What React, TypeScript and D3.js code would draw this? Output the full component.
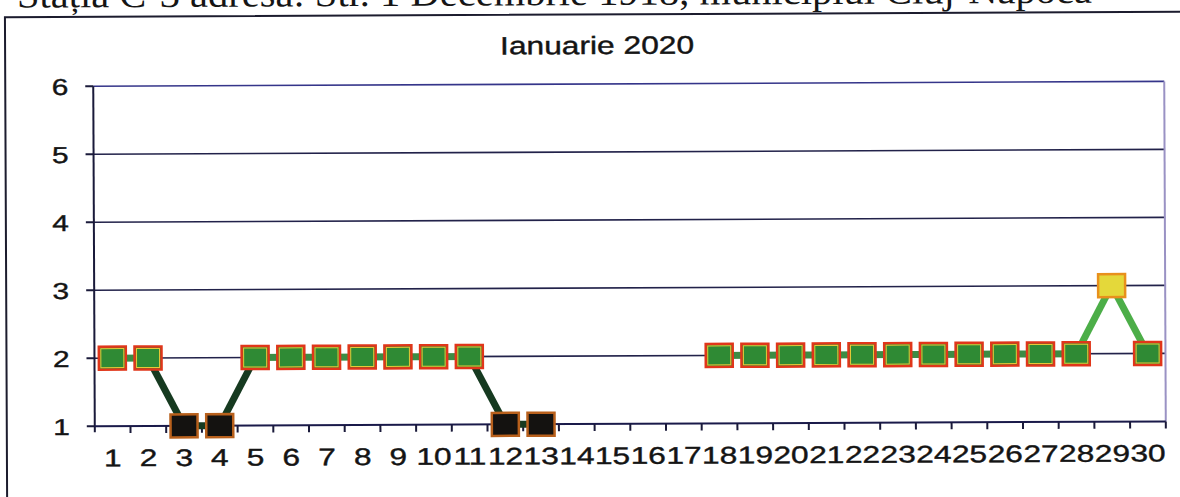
import React from 'react'
import * as d3 from 'd3'

// days of January 2020 (category axis)
const days = [
  '1', '2', '3', '4', '5', '6', '7', '8', '9', '10',
  '11', '12', '13', '14', '15', '16', '17', '18', '19', '20',
  '21', '22', '23', '24', '25', '26', '27', '28', '29', '30',
]

// daily index value, null = no measurement
const values: (number | null)[] = [
  2, 2, 1, 1, 2, 2, 2, 2, 2, 2,
  2, 1, 1, null, null, null, null, 2, 2, 2,
  2, 2, 2, 2, 2, 2, 2, 2, 3, 2,
]

const yTicks = [1, 2, 3, 4, 5, 6]

const header = 'Stația C-3 adresa: Str. 1 Decembrie 1918, municipiul Cluj-Napoca'
const title = 'Ianuarie 2020'

const W = 1180
const H = 497
const left = 94
const right = 1165
const top = 84
const bottom = 424

const sansFont = '"Liberation Sans", Arial, sans-serif'
const ink = '#141414'

const markerFill = (v: number) => (v === 1 ? '#141210' : v === 3 ? '#e4d83a' : '#2f8a34')
const markerStroke = (v: number) => (v === 1 ? '#b8601c' : v === 3 ? '#e8901c' : '#e0361a')
const segColor = (a: number, b: number) =>
  Math.min(a, b) === 1 ? '#163a20' : Math.max(a, b) === 3 ? '#4cae48' : '#3c8c44'

const App: React.FC = () => {
  const x = d3.scaleBand().domain(days).range([left, right]).padding(0)
  const y = d3.scaleLinear().domain([1, 6]).range([bottom, top])
  const cx = (d: string) => x(d)! + x.bandwidth() / 2

  const points = days.map((d, i) => ({ day: d, v: values[i] }))
  const segments = points.slice(1).map((p, i) => ({ a: points[i], b: p }))
    .filter((s) => s.a.v != null && s.b.v != null)

  const mw = 27
  const mh = 23

  return (
    <svg width={W} height={H} style={{ position: 'absolute', left: 0, top: 0, background: '#fff' }}>
      <g transform="rotate(-0.26, 590, 250)">
        {/* page header, cut at top of the scan */}
        <text x={18} y={5} fontFamily='"Liberation Serif", "Times New Roman", serif' fontSize={38}
          textLength={1075} lengthAdjust="spacingAndGlyphs" fill="#151515">{header}</text>
        {/* chart frame */}
        <rect x={6} y={14.5} width={W + 20} height={H + 20} fill="none" stroke="#1c1c2e" strokeWidth={2} />

        <text transform={`translate(598,54) scale(1.27,1)`} textAnchor="middle"
          fontFamily={sansFont} fontSize={25} fill={ink} stroke={ink} strokeWidth={0.4}>{title}</text>

        {/* gridlines */}
        {yTicks.filter((t) => t > 1).map((t) => (
          <line key={t} x1={left} x2={right} y1={y(t)} y2={y(t)} stroke={t === 6 ? '#35358a' : '#22224a'} strokeWidth={1.6} />
        ))}
        {/* plot right border */}
        <line x1={right} x2={right} y1={top} y2={bottom} stroke="#9a92c4" strokeWidth={2} />
        {/* axes */}
        <line x1={left} x2={left} y1={top} y2={bottom + 6} stroke="#1a1a3a" strokeWidth={2} />
        <line x1={left} x2={right} y1={bottom} y2={bottom} stroke="#1a1a4a" strokeWidth={2} />
        {yTicks.map((t) => (
          <g key={t}>
            <line x1={left - 8} x2={left} y1={y(t)} y2={y(t)} stroke="#1a1a3a" strokeWidth={2} />
            <text transform={`translate(69,${y(t) + 8.5}) scale(1.3,1)`} textAnchor="end"
              fontFamily={sansFont} fontSize={23} fill={ink} stroke={ink} strokeWidth={0.4}>{t}</text>
          </g>
        ))}
        {days.map((d) => (
          <line key={d} x1={x(d)! + x.bandwidth()} x2={x(d)! + x.bandwidth()} y1={bottom} y2={bottom + 7}
            stroke="#1a1a3a" strokeWidth={2} />
        ))}
        {days.map((d) => (
          <text key={d} transform={`translate(${cx(d)},${bottom + 40}) scale(1.32,1)`} textAnchor="middle"
            fontFamily={sansFont} fontSize={24} fill={ink} stroke={ink} strokeWidth={0.4}>{d}</text>
        ))}

        {/* line segments */}
        {segments.map((s) => (
          <line key={s.a.day} x1={cx(s.a.day)} y1={y(s.a.v!)} x2={cx(s.b.day)} y2={y(s.b.v!)}
            stroke={segColor(s.a.v!, s.b.v!)} strokeWidth={7} />
        ))}

        {/* markers */}
        {points.filter((p) => p.v != null).map((p) => (
          <g key={p.day}>
            <rect x={cx(p.day) - mw / 2} y={y(p.v!) - mh / 2} width={mw} height={mh}
              fill={markerFill(p.v!)} stroke={markerStroke(p.v!)} strokeWidth={2.5} />
            {p.v === 2 && (
              <rect x={cx(p.day) - mw / 2 + 2} y={y(p.v!) - mh / 2 + 2} width={mw - 4} height={mh - 4}
                fill="none" stroke="#e8c838" strokeWidth={1} />
            )}
          </g>
        ))}
      </g>
    </svg>
  )
}

export default App
